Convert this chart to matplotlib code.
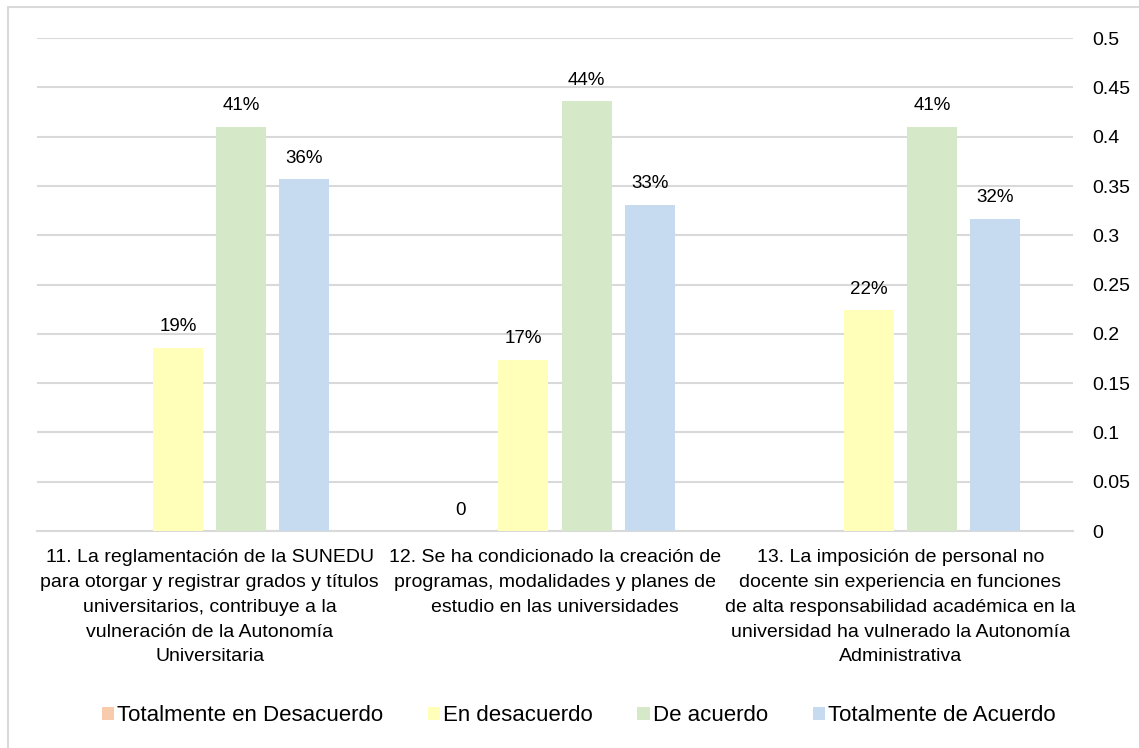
import numpy as np
import matplotlib.pyplot as plt
from matplotlib.patches import Rectangle

plt.rcParams['font.family'] = ['Liberation Sans', 'DejaVu Sans']

categories = [
    "11. La reglamentación de la SUNEDU\npara otorgar y registrar grados y títulos\nuniversitarios, contribuye a la\nvulneración de la Autonomía\nUniversitaria",
    "12. Se ha condicionado la creación de\nprogramas, modalidades y planes de\nestudio en las universidades",
    "13. La imposición de personal no\ndocente sin experiencia en funciones\nde alta responsabilidad académica en la\nuniversidad ha vulnerado la Autonomía\nAdministrativa",
]
series_names = ["Totalmente en Desacuerdo", "En desacuerdo", "De acuerdo", "Totalmente de Acuerdo"]
totalmente_desacuerdo = [np.nan, 0.0, np.nan]
en_desacuerdo = [0.186, 0.174, 0.224]
de_acuerdo = [0.41, 0.436, 0.41]
totalmente_acuerdo = [0.357, 0.331, 0.317]
colors = ["#F8CBAD", "#FFFFB9", "#D5E8C8", "#C6DBEF"]

all_series = [totalmente_desacuerdo, en_desacuerdo, de_acuerdo, totalmente_acuerdo]

fig = plt.figure(figsize=(11.39, 7.48), dpi=100)
fig.patches.append(Rectangle((0.007, -0.01), 1.0, 1.0, transform=fig.transFigure,
                             fill=False, edgecolor="#d9d9d9", linewidth=1.5))
ax = fig.add_axes([0.0325, 0.29, 0.9095, 0.659])

x = np.arange(len(categories))
width = 0.145
step = 0.183
for i, (vals, name, col) in enumerate(zip(all_series, series_names, colors)):
    pos = x + (i - 1.5) * step
    ax.bar(pos, vals, width, color=col, label=name, zorder=3)
    for p, v in zip(pos, vals):
        if np.isnan(v):
            continue
        txt = "0" if v == 0 else f"{v * 100:.0f}%"
        ax.annotate(txt, (p, v), xytext=(0, 9), textcoords="offset points",
                    ha="center", va="bottom", fontsize=13.5, color="#000000")

ax.set_xlim(-0.5, 2.5)
ax.set_ylim(0, 0.5)
ax.set_yticks(np.arange(0, 0.51, 0.05))
ax.set_yticklabels(["0", "0.05", "0.1", "0.15", "0.2", "0.25", "0.3", "0.35", "0.4", "0.45", "0.5"])
ax.yaxis.tick_right()
ax.tick_params(axis="y", length=0, labelsize=14, pad=14)
ax.tick_params(axis="x", length=0, labelsize=14, pad=13)
ax.set_xticks(x)
ax.set_xticklabels(categories, linespacing=1.6)
ax.grid(axis="y", color="#d9d9d9", linewidth=1.5, zorder=0)
for s in ["top", "left", "right"]:
    ax.spines[s].set_visible(False)
ax.spines["bottom"].set_color("#d9d9d9")
ax.spines["bottom"].set_linewidth(1.5)

fig.legend(loc="center", bbox_to_anchor=(0.508, 0.043), ncol=4, frameon=False,
           fontsize=16, handlelength=0.55, handleheight=0.55, handletextpad=0.15,
           columnspacing=2.0)

fig.savefig("out.png", dpi=100)
